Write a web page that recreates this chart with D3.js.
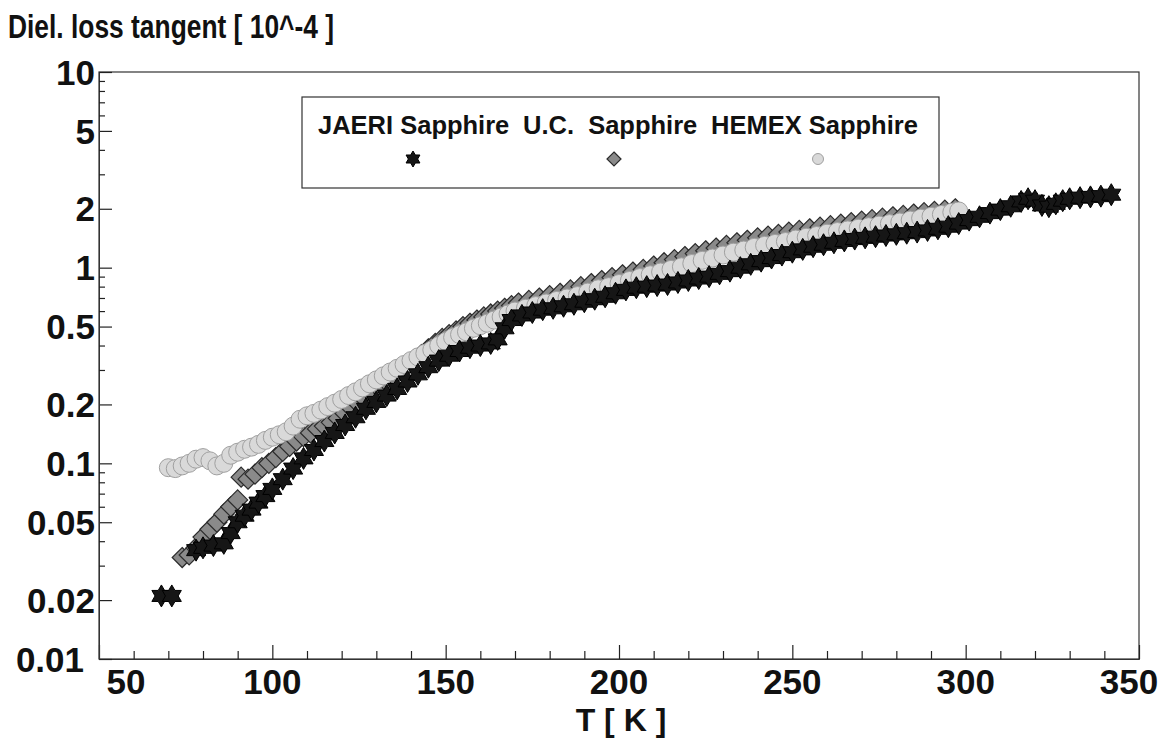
<!DOCTYPE html>
<html>
<head>
<meta charset="utf-8">
<script src="https://cdn.jsdelivr.net/npm/d3@7"></script>
<style>
  html, body { margin: 0; padding: 0; background: #fff; }
  svg { display: block; }
  .lbl { font-family: "Liberation Sans", Arial, sans-serif; font-weight: bold; fill: #111; }
</style>
</head>
<body>
<svg id="chart" width="1168" height="749"></svg>
<script>
// Dielectric loss tangent of three sapphire samples vs temperature
const seriesNames = ["JAERI Sapphire", "U.C.  Sapphire", "HEMEX Sapphire"];

// [T (K), tan δ (10^-4)]
const jaeri = [
  [68,0.021],[71,0.021],
  [78,0.036],[80,0.037],[83,0.038],[86,0.039],[88,0.044],[90,0.050],[92,0.054],[94,0.058],
  [96,0.063],[98,0.068],[100,0.074],[103,0.083],[106,0.094],[109,0.106],[112,0.117],[115,0.130],
  [118,0.143],[121,0.157],[124,0.172],[127,0.19],[130,0.206],[133,0.222],[136,0.24],[139,0.262],
  [142,0.285],[145,0.31],[148,0.335],[151,0.355],[154,0.375],[157,0.39],[160,0.40],[163,0.41],
  [165,0.43],[167,0.49],[169,0.54],[172,0.57],[175,0.59],[178,0.61],[181,0.62],[184,0.635],
  [187,0.65],[190,0.67],[193,0.69],[196,0.71],[199,0.74],[202,0.77],[205,0.79],[208,0.80],
  [211,0.81],[214,0.82],[217,0.84],[220,0.86],[223,0.88],[226,0.90],[229,0.93],[232,0.96],
  [235,1.0],[238,1.04],[241,1.08],[244,1.12],[247,1.16],[250,1.2],[253,1.24],[256,1.28],
  [259,1.31],[262,1.34],[265,1.37],[268,1.40],[271,1.42],[274,1.44],[277,1.46],[280,1.48],
  [283,1.50],[286,1.52],[289,1.55],[292,1.58],[295,1.62],[298,1.68],[301,1.75],[304,1.82],
  [307,1.90],[310,1.98],[313,2.06],[316,2.18],[318,2.25],[320,2.2],[322,2.08],[324,2.05],
  [326,2.12],[328,2.2],[330,2.25],[333,2.28],[336,2.30],[339,2.32],[342,2.36]
];

const uc = [
  [74,0.033],[76,0.034],[78,0.037],[80,0.042],[82,0.046],[84,0.050],[86,0.055],[88,0.060],
  [90,0.065],[91,0.085],[93,0.083],[95,0.088],[97,0.095],[99,0.10],[101,0.107],[103,0.115],
  [105,0.122],[107,0.13],[109,0.137],[111,0.143],[113,0.15],[115,0.155],[117,0.162],[119,0.17],
  [121,0.18],[123,0.19],[125,0.20],[127,0.21],[129,0.225],[131,0.24],[133,0.26],[135,0.28],
  [137,0.30],[139,0.32],[141,0.34],[143,0.36],[145,0.385],[147,0.41],[149,0.435],[151,0.455],
  [153,0.475],[155,0.50],[157,0.52],[159,0.54],[161,0.56],[163,0.58],[165,0.60],[167,0.62],
  [169,0.64],[171,0.66],[174,0.68],[177,0.70],[180,0.72],[183,0.74],[186,0.77],[189,0.80],
  [192,0.83],[195,0.86],[198,0.89],[201,0.92],[204,0.95],[207,0.98],[210,1.02],[213,1.06],
  [216,1.10],[219,1.14],[222,1.18],[225,1.22],[228,1.26],[231,1.30],[234,1.34],[237,1.38],
  [240,1.42],[243,1.45],[246,1.48],[249,1.52],[252,1.55],[255,1.58],[258,1.61],[261,1.64],
  [264,1.67],[267,1.70],[270,1.73],[273,1.76],[276,1.79],[279,1.82],[282,1.85],[285,1.88],
  [288,1.91],[291,1.94],[294,1.97],[297,2.0]
];

const hemex = [
  [70,0.095],[72,0.094],[74,0.097],[76,0.10],[78,0.105],[80,0.107],[82,0.103],[84,0.097],
  [86,0.10],[88,0.11],[90,0.114],[92,0.118],[94,0.121],[96,0.125],[98,0.131],[100,0.136],
  [102,0.14],[104,0.145],[106,0.155],[108,0.168],[110,0.175],[112,0.18],[114,0.187],[116,0.195],
  [118,0.203],[120,0.212],[122,0.222],[124,0.232],[126,0.243],[128,0.255],[130,0.267],[132,0.28],
  [134,0.293],[136,0.306],[138,0.32],[140,0.335],[142,0.35],[144,0.365],[146,0.38],[148,0.40],
  [150,0.42],[152,0.44],[154,0.455],[156,0.47],[158,0.49],[160,0.505],[162,0.52],[164,0.54],
  [166,0.56],[168,0.58],[170,0.60],[173,0.62],[176,0.64],[179,0.66],[182,0.68],[185,0.70],
  [188,0.72],[191,0.75],[194,0.78],[197,0.80],[200,0.83],[203,0.86],[206,0.89],[209,0.92],
  [212,0.95],[215,0.98],[218,1.01],[221,1.05],[224,1.09],[227,1.12],[230,1.16],[233,1.20],
  [236,1.23],[239,1.27],[242,1.30],[245,1.33],[248,1.36],[251,1.40],[254,1.43],[257,1.46],
  [260,1.50],[263,1.53],[266,1.56],[269,1.59],[272,1.62],[275,1.65],[278,1.68],[281,1.71],
  [284,1.75],[287,1.79],[290,1.83],[293,1.87],[296,1.92],[298,1.95]
];

const xTicks = [50, 100, 150, 200, 250, 300, 350];
const xMinor = d3.range(60, 350, 10).filter(v => v % 50 !== 0);
const yTickLabels = ["10", "5", "2", "1", "0.5", "0.2", "0.1", "0.05", "0.02", "0.01"];

const svg = d3.select("#chart");
const plotLeft = 99, plotRight = 1139, plotTop = 72, plotBottom = 659;

const x = d3.scaleLinear().domain([50, 350]).range([plotLeft, plotRight]);
const y = d3.scaleLog().domain([0.01, 10]).range([plotBottom, plotTop]);

// plot frame
svg.append("rect")
  .attr("x", plotLeft).attr("y", plotTop)
  .attr("width", plotRight - plotLeft).attr("height", plotBottom - plotTop)
  .attr("fill", "none").attr("stroke", "#333").attr("stroke-width", 1.2);

// x axis: major + minor ticks pointing inward
const xAxis = svg.append("g").attr("transform", `translate(0,${plotBottom})`);
xAxis.call(d3.axisBottom(x).tickValues(xTicks).tickSizeInner(-14).tickSizeOuter(0).tickFormat(""));
xAxis.append("g").call(d3.axisBottom(x).tickValues(xMinor).tickSizeInner(-8).tickSizeOuter(0).tickFormat(""));
xAxis.selectAll(".domain").attr("stroke", "#333");
xAxis.selectAll(".tick line").attr("stroke", "#222").attr("stroke-width", 1.2);

xTicks.forEach((t, i) => {
  let dx = 0;
  if (i === 0) dx = 27;
  if (i === xTicks.length - 1) dx = -10;
  svg.append("text").attr("class", "lbl")
    .attr("x", x(t) + dx).attr("y", 694)
    .attr("text-anchor", "middle").attr("font-size", 35)
    .text(String(t));
});

// y axis: labelled ticks, then unlabelled minor ticks
const yMajorVals = yTickLabels.map(Number);
const yMinorVals = [];
[0.01, 0.1, 1].forEach(d => {
  for (let k = 2; k <= 9; k++) {
    const v = +(d * k).toPrecision(3);
    if (k !== 2 && k !== 5) yMinorVals.push(v);
  }
});
const yAxis = svg.append("g").attr("transform", `translate(${plotLeft},0)`);
yAxis.call(d3.axisLeft(y).tickValues(yMajorVals).tickSizeInner(-13).tickSizeOuter(0).tickFormat(""));
yAxis.append("g").call(d3.axisLeft(y).tickValues(yMinorVals).tickSizeInner(-6).tickSizeOuter(0).tickFormat(""));
yAxis.selectAll(".domain").attr("stroke", "#333");
yAxis.selectAll(".tick line").attr("stroke", "#222").attr("stroke-width", 1.2);

yTickLabels.forEach((s, i) => {
  const v = Number(s);
  svg.append("text").attr("class", "lbl")
    .attr("x", i === yTickLabels.length - 1 ? 84 : 95)
    .attr("y", y(v)).attr("dy", "0.36em")
    .attr("text-anchor", "end").attr("font-size", 35)
    .text(s);
});

// titles
svg.append("text").attr("class", "lbl")
  .attr("x", 8).attr("y", 38).attr("font-size", 33)
  .attr("textLength", 326).attr("lengthAdjust", "spacingAndGlyphs")
  .text("Diel. loss tangent [ 10^-4 ]");
svg.append("text").attr("class", "lbl")
  .attr("x", 621).attr("y", 731).attr("text-anchor", "middle").attr("font-size", 32)
  .text("T [ K ]");

// marker shapes
function hexagram(r) {
  const pts = [];
  for (let i = 0; i < 12; i++) {
    const a = -Math.PI / 2 + i * Math.PI / 6;
    const rr = i % 2 === 0 ? r : r * 0.58;
    pts.push([rr * Math.cos(a), rr * Math.sin(a)]);
  }
  return "M" + pts.map(p => p[0].toFixed(2) + "," + p[1].toFixed(2)).join("L") + "Z";
}
function diamond(r) {
  return `M0,${-r}L${r},0L0,${r}L${-r},0Z`;
}

const styles = {
  jaeri: { fill: "#161616", stroke: "#000", sw: 1 },
  uc:    { fill: "#8a8a8a", stroke: "#2b2b2b", sw: 1.2 },
  hemex: { fill: "#d9d9d9", stroke: "#a0a0a0", sw: 1 }
};

const plot = svg.append("g");

// U.C. first, HEMEX over it, JAERI on top
plot.append("g").selectAll("path").data(uc).join("path")
  .attr("transform", d => `translate(${x(d[0])},${y(d[1])})`)
  .attr("d", diamond(10))
  .attr("fill", styles.uc.fill).attr("stroke", styles.uc.stroke).attr("stroke-width", styles.uc.sw);

plot.append("g").selectAll("circle").data(hemex).join("circle")
  .attr("cx", d => x(d[0])).attr("cy", d => y(d[1])).attr("r", 9)
  .attr("fill", styles.hemex.fill).attr("stroke", styles.hemex.stroke).attr("stroke-width", styles.hemex.sw);

plot.append("g").selectAll("path").data(jaeri).join("path")
  .attr("transform", d => `translate(${x(d[0])},${y(d[1])})`)
  .attr("d", hexagram(11))
  .attr("fill", styles.jaeri.fill).attr("stroke", styles.jaeri.stroke).attr("stroke-width", styles.jaeri.sw);

// legend
const lg = svg.append("g");
lg.append("rect").attr("x", 302).attr("y", 97).attr("width", 637).attr("height", 91)
  .attr("fill", "#fff").attr("stroke", "#333").attr("stroke-width", 1.2);
const legendX = [318, 523, 711];
const markerX = [413, 614, 818];
seriesNames.forEach((n, i) => {
  lg.append("text").attr("class", "lbl")
    .attr("x", legendX[i]).attr("y", 134).attr("font-size", 25.5)
    .style("white-space", "pre")
    .text(n);
});
lg.append("path").attr("transform", `translate(${markerX[0]},159)`).attr("d", hexagram(8))
  .attr("fill", styles.jaeri.fill).attr("stroke", styles.jaeri.stroke);
lg.append("path").attr("transform", `translate(${markerX[1]},159)`).attr("d", diamond(7))
  .attr("fill", styles.uc.fill).attr("stroke", styles.uc.stroke).attr("stroke-width", 1.2);
lg.append("circle").attr("cx", markerX[2]).attr("cy", 159).attr("r", 5.5)
  .attr("fill", styles.hemex.fill).attr("stroke", styles.hemex.stroke);
</script>
</body>
</html>
